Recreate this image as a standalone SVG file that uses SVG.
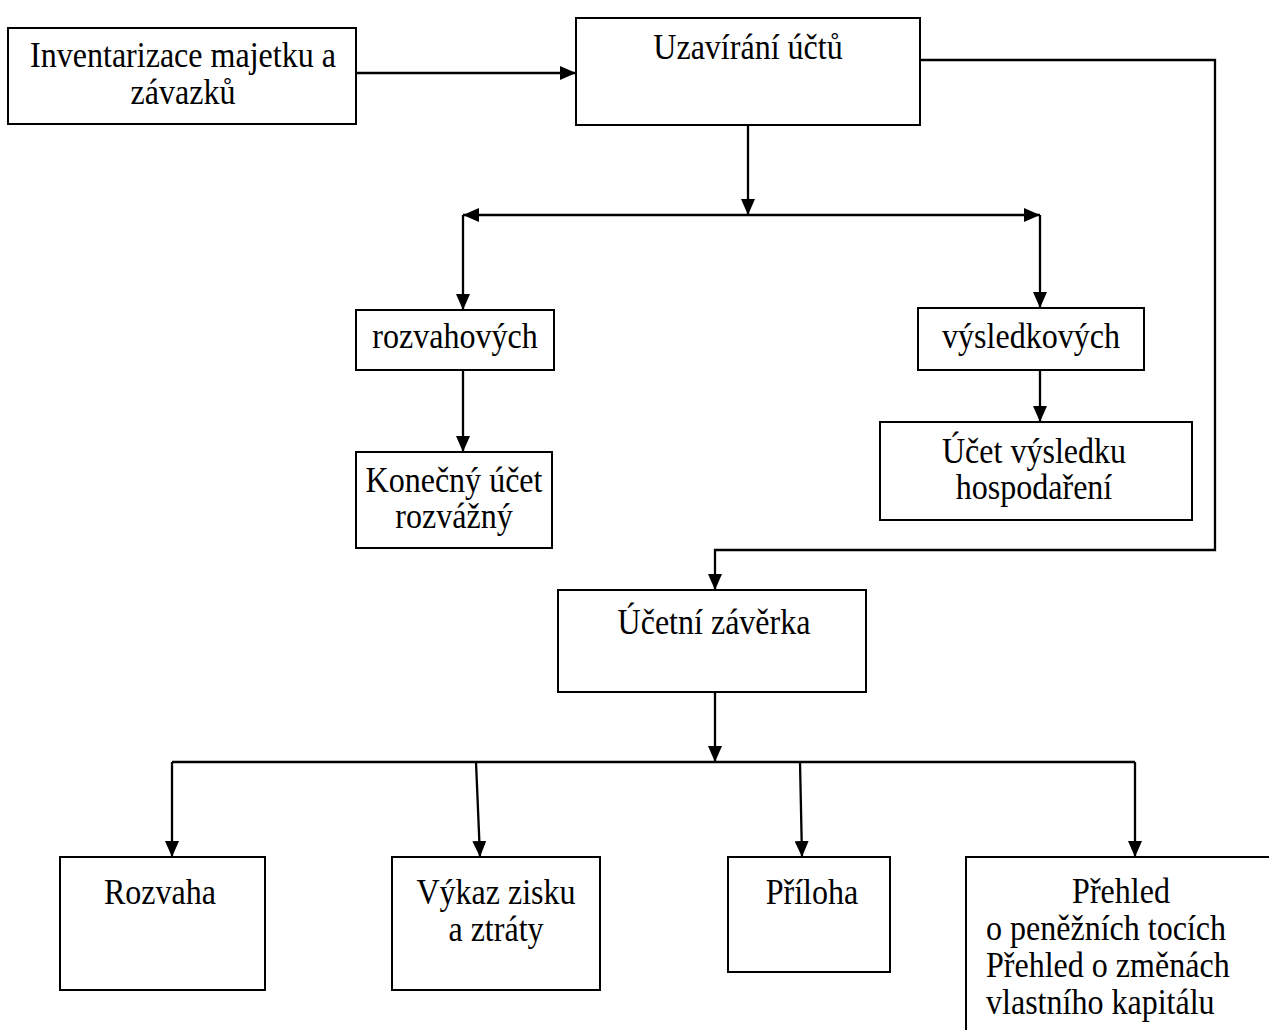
<svg xmlns="http://www.w3.org/2000/svg" width="1269" height="1030" viewBox="0 0 1269 1030">
<style>
.box{fill:#fff;stroke:#000;stroke-width:2}
.t{font-family:"Liberation Serif","Times New Roman",serif;font-size:36px;fill:#000;text-anchor:middle}
.l{text-anchor:start}
.c{fill:none;stroke:#000;stroke-width:2.3}
</style>
<defs>
<marker id="ah" viewBox="0 0 16 14" refX="16" refY="7" markerWidth="16" markerHeight="14" markerUnits="userSpaceOnUse" orient="auto">
<path d="M0,0 L16,7 L0,14 Z" fill="#000"/>
</marker>
</defs>
<rect width="1269" height="1030" fill="#fff"/>
<g id="connectors">
<path class="c" d="M356,73 H576" marker-end="url(#ah)"/>
<path class="c" d="M748,125 V215" marker-end="url(#ah)"/>
<path class="c" d="M748,215 H463" marker-end="url(#ah)"/>
<path class="c" d="M748,215 H1040" marker-end="url(#ah)"/>
<path class="c" d="M463,215 V310" marker-end="url(#ah)"/>
<path class="c" d="M1040,215 V308" marker-end="url(#ah)"/>
<path class="c" d="M463,370 V452" marker-end="url(#ah)"/>
<path class="c" d="M1040,370 V422" marker-end="url(#ah)"/>
<path class="c" d="M920,60 H1215 V550 H715 V590" marker-end="url(#ah)"/>
<path class="c" d="M715,692 V762" marker-end="url(#ah)"/>
<path class="c" d="M172,762 H1135"/>
<path class="c" d="M172,762 V857" marker-end="url(#ah)"/>
<path class="c" d="M476,762 L480,857" marker-end="url(#ah)"/>
<path class="c" d="M800,762 L802,857" marker-end="url(#ah)"/>
<path class="c" d="M1135,762 V857" marker-end="url(#ah)"/>
</g>
<g id="inventarizace">
<rect class="box" x="8" y="28" width="348" height="96"/>
<text class="t" transform="translate(183,67) scale(0.89,1)">Inventarizace majetku a</text>
<text class="t" transform="translate(183,104) scale(0.89,1)">závazků</text>
</g>
<g id="uzavirani">
<rect class="box" x="576" y="18" width="344" height="107"/>
<text class="t" transform="translate(748,59) scale(0.89,1)">Uzavírání účtů</text>
</g>
<g id="rozvahovych">
<rect class="box" x="356" y="310" width="198" height="60"/>
<text class="t" transform="translate(455,348) scale(0.89,1)">rozvahových</text>
</g>
<g id="konecny">
<rect class="box" x="356" y="452" width="196" height="96"/>
<text class="t" transform="translate(454,492) scale(0.89,1)">Konečný účet</text>
<text class="t" transform="translate(454,528) scale(0.89,1)">rozvážný</text>
</g>
<g id="vysledkovych">
<rect class="box" x="918" y="308" width="226" height="62"/>
<text class="t" transform="translate(1031,348) scale(0.89,1)">výsledkových</text>
</g>
<g id="ucet-vysledku">
<rect class="box" x="880" y="422" width="312" height="98"/>
<text class="t" transform="translate(1034,463) scale(0.89,1)">Účet výsledku</text>
<text class="t" transform="translate(1034,499) scale(0.89,1)">hospodaření</text>
</g>
<g id="ucetni-zaverka">
<rect class="box" x="558" y="590" width="308" height="102"/>
<text class="t" transform="translate(714,634) scale(0.89,1)">Účetní závěrka</text>
</g>
<g id="rozvaha">
<rect class="box" x="60" y="857" width="205" height="133"/>
<text class="t" transform="translate(160,904) scale(0.89,1)">Rozvaha</text>
</g>
<g id="vykaz">
<rect class="box" x="392" y="857" width="208" height="133"/>
<text class="t" transform="translate(496,904) scale(0.89,1)">Výkaz zisku</text>
<text class="t" transform="translate(496,941) scale(0.89,1)">a ztráty</text>
</g>
<g id="priloha">
<rect class="box" x="728" y="857" width="162" height="115"/>
<text class="t" transform="translate(812,904) scale(0.89,1)">Příloha</text>
</g>
<g id="prehled">
<path class="box" d="M966,1032 V857 H1271"/>
<text class="t" transform="translate(1121,903) scale(0.89,1)">Přehled</text>
<text class="t l" transform="translate(986,940) scale(0.89,1)">o peněžních tocích</text>
<text class="t l" transform="translate(986,977) scale(0.89,1)">Přehled o změnách</text>
<text class="t l" transform="translate(986,1014) scale(0.89,1)">vlastního kapitálu</text>
</g>
</svg>
